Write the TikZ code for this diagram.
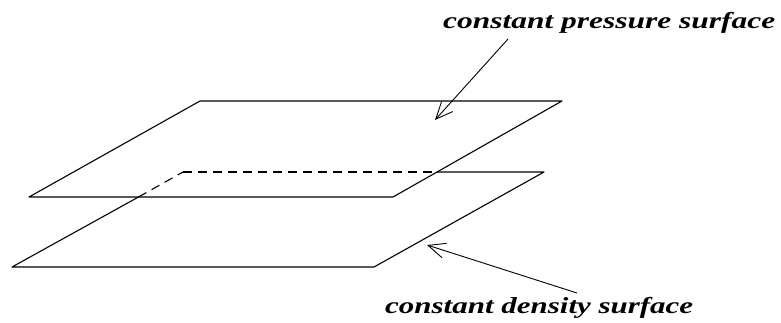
\documentclass[tikz,border=0pt]{standalone}
\usepackage{fontspec}
\setmainfont{Liberation Serif}
\usetikzlibrary{arrows.meta}
\tikzset{
  edge/.style={line width=1.1pt, line cap=round, line join=round},
  hidden/.style={edge, dash pattern=on 9pt off 6pt, line cap=butt},
  pointer/.style={line width=0.9pt, -{Straight Barb[length=17pt,width=15pt,line width=0.9pt]}},
  lbl/.style={font=\bfseries\itshape\fontsize{23}{26}\selectfont, inner sep=0pt, anchor=base west}
}
\begin{document}
\begin{tikzpicture}[x=1pt,y=-1pt]
\useasboundingbox (0,0) rectangle (781,322);
% upper plane (constant pressure)
\coordinate (u1) at (200,101);
\coordinate (u2) at (562,101);
\coordinate (u3) at (393,197);
\coordinate (u4) at (29,197);
% lower plane (constant density)
\coordinate (l1) at (183,172);
\coordinate (l2) at (544,172);
\coordinate (l3) at (374,267);
\coordinate (l4) at (12,267);
\coordinate (lx) at (437,172);
\coordinate (ly) at (138.5,197);
\draw[edge] (u1) -- (u2) -- (u3) -- (u4) -- cycle;
\draw[hidden] (l1) -- (lx);
\draw[hidden] (ly) -- (l1);
\draw[edge] (lx) -- (l2) -- (l3) -- (l4) -- (ly);
% labels
\node[lbl] (ptxt) at (443,28) {\resizebox{332pt}{\height}{constant pressure surface}};
\node[lbl] (dtxt) at (385,313) {\resizebox{308pt}{\height}{constant density surface}};
\coordinate (ps) at (508,39);
\coordinate (pt) at (435,120);
\coordinate (ds) at (577,293);
\coordinate (dt) at (427,245);
\draw[pointer] (ps) -- (pt);
\draw[pointer] (ds) -- (dt);
\end{tikzpicture}
\end{document}
